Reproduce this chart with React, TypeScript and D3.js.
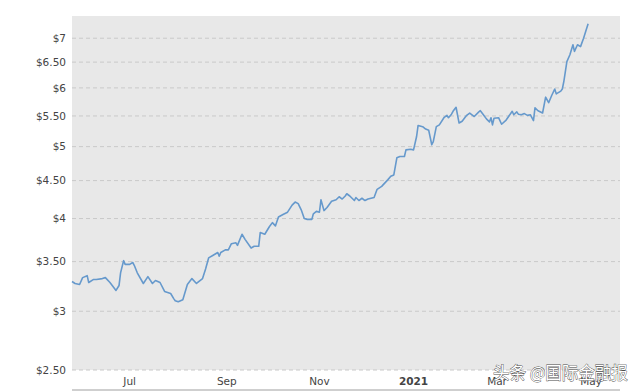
import * as d3 from "d3";

const W = 640;
const H = 392;
const PLOT = { left: 72, right: 620, top: 16, bottom: 370 };
const FONT = '"DejaVu Sans", Verdana, sans-serif';

const START_DATE = "2020-06-06";
const END_DATE = "2021-06-02";

// days after START_DATE
const DAYS = [
  0, 2, 5, 7, 10, 11, 14, 16, 20, 22, 25, 29, 31, 32, 34, 35, 38, 40, 41, 43,
  47, 50, 53, 55, 58, 61, 65, 67, 68, 70, 73, 76, 79, 82, 86, 88, 90,
  93, 96, 97, 98, 101, 103, 105, 108, 109, 112, 114, 118, 120, 123, 124, 127,
  130, 132, 134, 136, 139, 142, 145, 147, 149, 151, 153, 155, 158, 159, 161,
  163, 164, 166, 168, 171, 174, 176, 178, 180,
  181, 183, 186, 187, 189, 191, 193, 195, 199, 201, 204, 208, 210, 212, 214,
  216, 219, 220, 223, 225, 227, 228, 231, 233, 235, 237, 238, 240, 242, 245,
  247, 248, 250, 251, 253, 255, 257, 260, 262, 265, 268,
  269, 271, 273, 275, 276, 277, 278, 281, 283, 286, 290, 291, 293, 294, 296,
  298, 300, 302, 304, 305, 307, 310, 312, 314, 316, 318, 319, 322, 323, 324,
  326, 328, 330, 331, 333, 335, 337, 340,
];

const PRICES = [
  3.29, 3.27, 3.26, 3.33, 3.35, 3.28, 3.31, 3.31, 3.32, 3.33, 3.28, 3.2, 3.25,
  3.38, 3.51, 3.47, 3.47, 3.49, 3.46, 3.38, 3.27, 3.34, 3.27, 3.3, 3.28, 3.19,
  3.17, 3.12, 3.1, 3.09, 3.11, 3.26, 3.32, 3.27, 3.32, 3.42, 3.54,
  3.57, 3.6, 3.56, 3.6, 3.63, 3.63, 3.7, 3.71, 3.68, 3.81, 3.75, 3.65, 3.67,
  3.67, 3.83, 3.81, 3.9, 3.95, 3.91, 4.02, 4.05, 4.08, 4.17, 4.21, 4.19, 4.11,
  4.0, 3.99, 3.99, 4.06, 4.09, 4.08, 4.24, 4.1, 4.14, 4.22, 4.24, 4.28, 4.25,
  4.29,
  4.32, 4.29, 4.23, 4.27, 4.23, 4.26, 4.23, 4.25, 4.27, 4.38, 4.42, 4.51, 4.56,
  4.58, 4.83, 4.85, 4.85, 4.95, 4.96, 4.95, 5.16, 5.34, 5.32, 5.28, 5.26, 5.03,
  5.08, 5.32, 5.35, 5.47, 5.51, 5.47, 5.53, 5.58, 5.65, 5.38, 5.41, 5.51, 5.55,
  5.49, 5.57,
  5.59, 5.52, 5.45, 5.4, 5.47, 5.35, 5.46, 5.47, 5.36, 5.43, 5.58, 5.52, 5.57,
  5.53, 5.52, 5.54, 5.51, 5.52, 5.42, 5.64, 5.59, 5.55, 5.83, 5.73, 5.86, 5.98,
  5.89, 5.94, 5.98, 6.12, 6.51, 6.65, 6.86, 6.72, 6.86, 6.82, 7.0, 7.32,
];

const Y_TICKS = [2.5, 3, 3.5, 4, 4.5, 5, 5.5, 6, 6.5, 7];
const X_TICK_DATES = [
  "2020-07-14",
  "2020-09-16",
  "2020-11-16",
  "2021-01-17",
  "2021-03-13",
  "2021-05-14",
];
const X_TICK_LABELS = ["Jul", "Sep", "Nov", "2021", "Mar", "May"];
const X_TICK_BOLD = [false, false, false, true, false, false];

const WATERMARK = "头条 @国际金融报";

const parse = d3.timeParse("%Y-%m-%d");

export default function App() {
  const start = parse(START_DATE) as Date;
  const end = parse(END_DATE) as Date;

  const x = d3.scaleTime().domain([start, end]).range([PLOT.left, PLOT.right]);
  const y = d3.scaleLog().domain([2.5, 7.5]).range([PLOT.bottom, PLOT.top]);

  const points = DAYS.map((d, i) => ({
    date: d3.timeDay.offset(start, d),
    value: PRICES[i],
  }));

  const line = d3
    .line<{ date: Date; value: number }>()
    .x((p) => x(p.date))
    .y((p) => y(p.value));

  const fmt = (v: number) => (v % 1 === 0 ? `$${v}` : `$${v.toFixed(2)}`);

  return (
    <svg
      width={W}
      height={H}
      style={{ position: "absolute", left: 0, top: 0, background: "#fff" }}
    >
      <rect
        x={PLOT.left}
        y={PLOT.top}
        width={PLOT.right - PLOT.left}
        height={PLOT.bottom - PLOT.top}
        fill="#e8e8e8"
      />
      {Y_TICKS.map((t) => (
        <g key={t}>
          <line
            x1={PLOT.left}
            x2={PLOT.right}
            y1={y(t)}
            y2={y(t)}
            stroke="#c9c9c9"
            strokeWidth={1}
            strokeDasharray="4,3"
          />
          <text
            x={66}
            y={y(t)}
            dy="0.35em"
            textAnchor="end"
            fontFamily={FONT}
            fontSize={10.5}
            fill="#444"
          >
            {fmt(t)}
          </text>
        </g>
      ))}
      {X_TICK_DATES.map((d, i) => (
        <text
          key={d}
          x={x(parse(d) as Date)}
          y={385}
          textAnchor="middle"
          fontFamily={FONT}
          fontSize={10.5}
          fontWeight={X_TICK_BOLD[i] ? "bold" : "normal"}
          fill="#444"
        >
          {X_TICK_LABELS[i]}
        </text>
      ))}
      <line
        x1={PLOT.left}
        x2={PLOT.right}
        y1={390}
        y2={390}
        stroke="#cfcfcf"
        strokeWidth={2}
      />
      <path
        d={line(points) ?? ""}
        fill="none"
        stroke="#6699cc"
        strokeWidth={1.6}
        strokeLinejoin="round"
      />
      <text
        x={493}
        y={379}
        fontFamily='"Noto Sans CJK SC", sans-serif'
        fontSize={16.5}
        fill="#fff"
        stroke="#4a4a4a"
        strokeWidth={0.8}
        paintOrder="stroke"
      >
        {WATERMARK}
      </text>
    </svg>
  );
}
